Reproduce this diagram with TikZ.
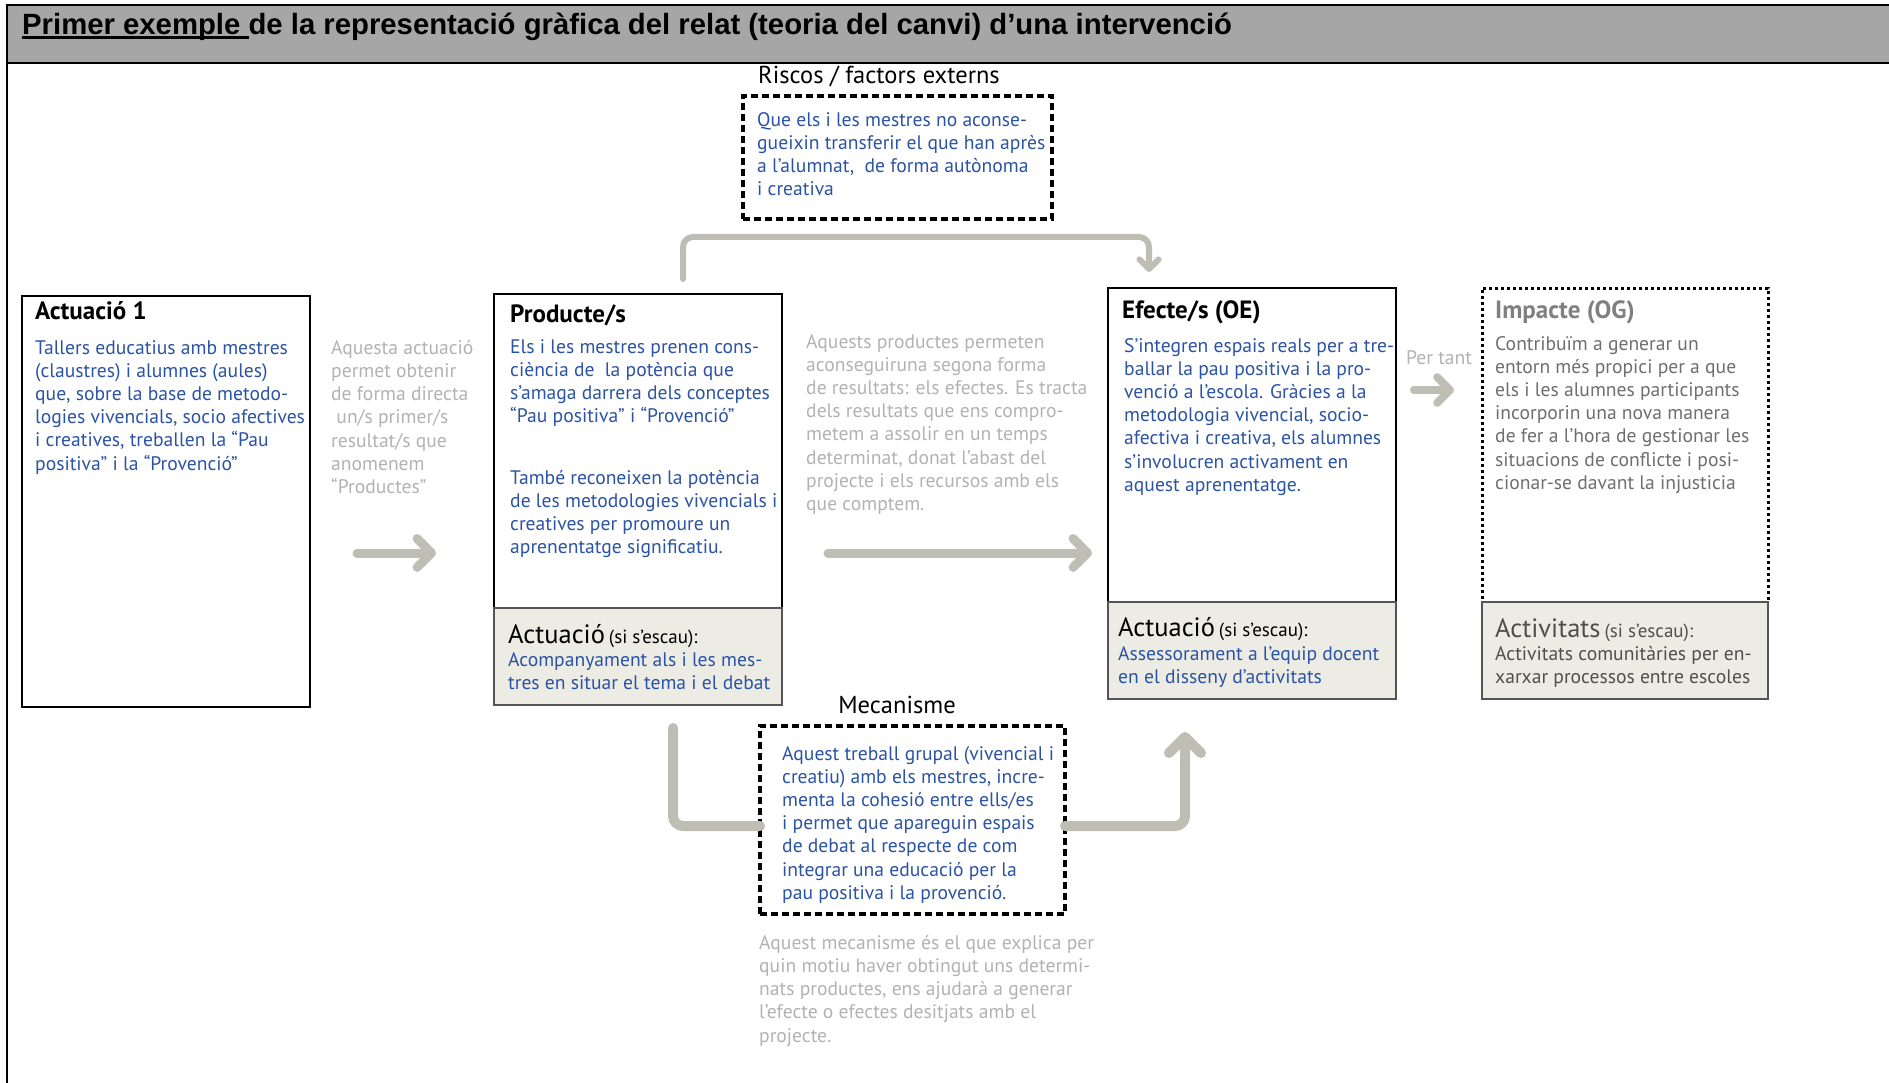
\documentclass[tikz,border=0pt]{standalone}
\usepackage{fontspec}
\setmainfont{PT Sans}
\newfontfamily\titlefont{Liberation Sans}
\usetikzlibrary{positioning, calc, arrows.meta}
\definecolor{xblue}{HTML}{2B53A4}
\definecolor{xgrey}{HTML}{B2B2B2}
\definecolor{xmid}{HTML}{6E6E6E}
\definecolor{xhead}{HTML}{808080}
\definecolor{xdark}{HTML}{4F4F4F}
\definecolor{xarrow}{HTML}{BEBEB5}
\definecolor{xpanel}{HTML}{ECECE4}
\definecolor{xedge}{HTML}{555555}
\definecolor{xbar}{HTML}{A6A6A6}
\newcommand{\bodyfont}{\fontsize{19.6}{23.2}\selectfont}
\newcommand{\headfont}{\bfseries\fontsize{25}{28}\selectfont}
\newcommand{\ulbar}[1]{\setbox0\hbox{#1}\rlap{\rule[-4pt]{\wd0}{3pt}}\box0}
\newcommand{\panelhd}[2]{{\fontsize{26.5}{28}\selectfont #1}\hspace{4pt}{\fontsize{19}{22}\selectfont #2}}
\tikzset{
	mainbox/.style={draw, line width=2.5pt, outer sep=0pt, inner sep=0pt, anchor=north west},
	dotbox/.style={line width=3pt, dash pattern=on 3pt off 3pt},
	panel/.style={draw=xedge, fill=xpanel, line width=2.5pt, outer sep=0pt, inner sep=0pt},
	dashbox/.style={draw, line width=3.5pt, dash pattern=on 7pt off 4pt, outer sep=0pt, inner sep=0pt, anchor=north west},
	body/.style={anchor=north west, align=left, inner sep=0pt, font=\bodyfont, execute at begin node=\strut},
	heading/.style={anchor=base west, inner sep=0pt, font=\headfont},
	panelhead/.style={anchor=base west, inner sep=0pt},
	lbl/.style={inner sep=0pt, font=\fontsize{24.5}{27}\selectfont},
	flowline/.style={xarrow, line width=10pt, line cap=round, rounded corners=10pt},
	flow/.style={flowline, -{Straight Barb[round, length=0pt 1.6, width=0pt 3.2]}},
	flowthin/.style={flow, line width=6pt},
}

\begin{document}
\begin{tikzpicture}[x=1pt, y=-1pt]
	\useasboundingbox (0,0) rectangle (1889,1083);

	% title bar and frame
	\draw[line width=2.5pt, fill=xbar] (7,5) rectangle (1900,63);
	\draw[line width=2.5pt] (7,63) -- (7,1090);
	\node[anchor=west, inner sep=0pt, font=\titlefont\bfseries\fontsize{29.3}{32}\selectfont] (title) at (22,27)
		{\ulbar{Primer exemple }de la representació gràfica del relat (teoria del canvi) d’una intervenció};

	% boxes
	\node[mainbox, minimum width=288pt, minimum height=411pt] (act) at (22,296) {};
	\node[mainbox, minimum width=288pt, minimum height=314pt] (prod) at (494,294) {};
	\node[panel, minimum width=288pt, minimum height=97pt, below=0pt of prod] (prodpanel) {};
	\node[mainbox, minimum width=288pt, minimum height=314pt] (eff) at (1108,288) {};
	\node[panel, minimum width=288pt, minimum height=97pt, below=0pt of eff] (effpanel) {};
	\node[mainbox, dotbox, minimum width=286pt, minimum height=314pt] (imp) at (1482,288) {};
	\node[panel, minimum width=286pt, minimum height=97pt, below=0pt of imp] (imppanel) {};
	\node[dashbox, minimum width=309pt, minimum height=123pt] (risk) at (743,96) {};
	\node[dashbox, minimum width=305pt, minimum height=188pt] (mech) at (760,726) {};

	% labels
	\node[lbl] (risklbl) at (879,76) {Riscos / factors externs};
	\node[lbl] (mechlbl) at (897,705) {Mecanisme};
	\node[panelhead, xgrey, font=\bodyfont] (pertant) at (1406,364) {Per tant};

	% texts
	\node[heading] (acthd) at (35,319) {Actuació 1};
	\node[body, xblue] (acttxt) at (35,340) {Tallers educatius amb mestres\\(claustres) i alumnes (aules)\\que, sobre la base de metodo-\\logies vivencials, socio afectives\\i creatives, treballen la “Pau\\positiva” i la “Provenció”};
	\node[body, xgrey] (acttip) at (331,340) {Aquesta actuació\\permet obtenir\\de forma directa\\\ un/s primer/s\\resultat/s que\\anomenem\\“Productes”};

	\node[heading] (prodhd) at (510,322) {Producte/s};
	\node[body, xblue] (prodtxt) at (510,339) {Els i les mestres prenen cons-\\ciència de\ \ la potència que\\s’amaga darrera dels conceptes\\“Pau positiva” i “Provenció”};
	\node[body, xblue] (prodtxtb) at (510,470) {També reconeixen la potència\\de les metodologies vivencials i\\creatives per promoure un\\aprenentatge significatiu.};
	\node[panelhead] (prodacthd) at (508,643) {\panelhd{Actuació}{(si s’escau):}};
	\node[body, xblue] (prodact) at (508,652) {Acompanyament als i les mes-\\tres en situar el tema i el debat};
	\node[body, xgrey] (prodtip) at (806,334) {Aquests productes permeten\\aconseguiruna segona forma\\de resultats: els efectes. Es tracta\\dels resultats que ens compro-\\metem a assolir en un temps\\determinat, donat l’abast del\\projecte i els recursos amb els\\que comptem.};

	\node[heading] (effhd) at (1122,318) {Efecte/s (OE)};
	\node[body, xblue] (efftxt) at (1124,338) {S’integren espais reals per a tre-\\ballar la pau positiva i la pro-\\venció a l’escola. Gràcies a la\\metodologia vivencial, socio-\\afectiva i creativa, els alumnes\\s’involucren activament en\\aquest aprenentatge.};
	\node[panelhead] (effacthd) at (1118,636) {\panelhd{Actuació}{(si s’escau):}};
	\node[body, xblue] (effact) at (1118,646) {Assessorament a l’equip docent\\en el disseny d’activitats};

	\node[heading, xhead] (imphd) at (1495,318) {Impacte (OG)};
	\node[body, xmid] (imptxt) at (1495,336) {Contribuïm a generar un\\entorn més propici per a que\\els i les alumnes participants\\incorporin una nova manera\\de fer a l’hora de gestionar les\\situacions de conflicte i posi-\\cionar-se davant la injusticia};
	\node[panelhead, xdark] (impacthd) at (1495,637) {\panelhd{Activitats}{(si s’escau):}};
	\node[body, xdark] (impact) at (1495,646) {Activitats comunitàries per en-\\xarxar processos entre escoles};

	\node[body, xblue] (risktxt) at (757,112) {Que els i les mestres no aconse-\\gueixin transferir el que han après\\a l’alumnat,\ \ de forma autònoma\\i creativa};
	\node[body, xblue] (mechtxt) at (782,746) {Aquest treball grupal (vivencial i\\creatiu) amb els mestres, incre-\\menta la cohesió entre ells/es\\i permet que apareguin espais\\de debat al respecte de com\\integrar una educació per la\\pau positiva i la provenció.};
	\node[body, xgrey] (mechtip) at (759,935) {Aquest mecanisme és el que explica per\\quin motiu haver obtingut uns determi-\\nats productes, ens ajudarà a generar\\l’efecte o efectes desitjats amb el\\projecte.};

	% connectors
	\coordinate (rowA) at (0,553);
	\draw[flow, line width=9pt, shorten <=47pt, shorten >=58pt] (act.east |- rowA) -- (prod.west |- rowA);
	\draw[flow, line width=9pt, shorten <=46pt, shorten >=16pt] (prod.east |- rowA) -- (eff.west |- rowA);
	\coordinate (rowB) at (0,390);
	\draw[flow, line width=8pt, shorten <=18pt, shorten >=28pt] (eff.east |- rowB) -- (imp.west |- rowB);
	\draw[flowthin] ([xshift=45pt, yshift=15pt]prod.north) |- ($(risk.south)+(0,18)$) -| ([xshift=-103pt, yshift=16pt]eff.north);
	\draw[flowline] ([xshift=35pt, yshift=-23pt]prodpanel.south) |- ([yshift=-6pt]mech.west);
	\draw[flow] ([yshift=-6pt]mech.east) -| ([xshift=-67pt, yshift=-33pt]effpanel.south);
\end{tikzpicture}
\end{document}
